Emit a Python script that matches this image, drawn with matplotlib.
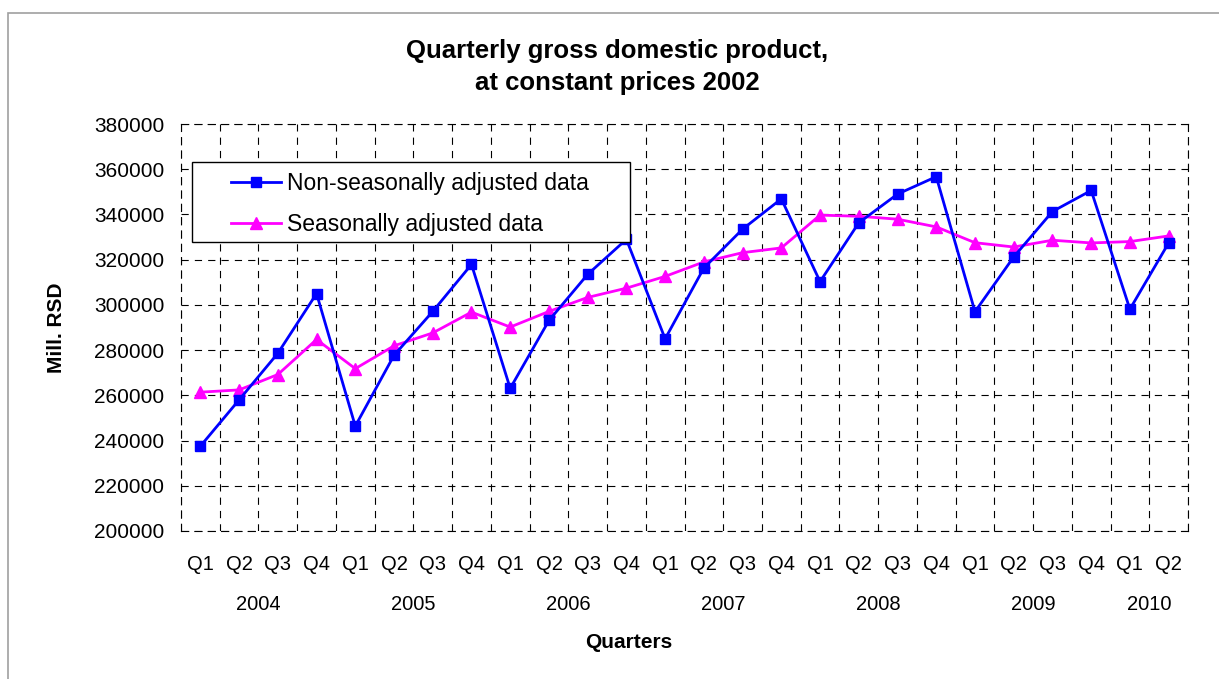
import matplotlib
matplotlib.use("Agg")
import matplotlib.pyplot as plt
from matplotlib.patches import Rectangle
import matplotlib.transforms as mtransforms

plt.rcParams['font.family'] = ['Liberation Sans', 'DejaVu Sans']

quarters = ["Q1", "Q2", "Q3", "Q4"] * 6 + ["Q1", "Q2"]
years = ["2004", "2005", "2006", "2007", "2008", "2009", "2010"]
year_quarter_counts = [4, 4, 4, 4, 4, 4, 2]

non_seasonal = [237500, 258000, 278600, 305000, 246400, 277700, 297100, 317900,
                263100, 293100, 313500, 329000, 285000, 316300, 333500, 346900,
                310300, 336300, 349000, 356700, 297000, 321200, 341300, 350600,
                298100, 327400]
seasonal = [261400, 262400, 269200, 284700, 271800, 281900, 287600, 296800,
            290200, 297100, 303300, 307400, 312600, 319000, 323100, 325200,
            339700, 339200, 337900, 334500, 327500, 325600, 328600, 327400,
            328000, 330500]

title = "Quarterly gross domestic product,\nat constant prices 2002"
ylabel = "Mill. RSD"
xlabel = "Quarters"
labels = ["Non-seasonally adjusted data", "Seasonally adjusted data"]

W, H = 1219, 679
AX_L, AX_R, AX_T, AX_B = 181, 1188, 124, 531
AW, AH = AX_R - AX_L, AX_B - AX_T

fig = plt.figure(figsize=(W / 100, H / 100), dpi=100)
fig.patch.set_facecolor("white")

# outer gray frame
fig.patches.append(Rectangle((8 / W, -0.05), 1.2, 1 - 13 / H + 0.05,
                             transform=fig.transFigure, fill=False,
                             edgecolor="#a0a0a0", linewidth=1.2))

ax = fig.add_axes([AX_L / W, 1 - AX_B / H, AW / W, AH / H])

x = list(range(len(quarters)))
ax.plot(x, non_seasonal, color="#0000ff", linewidth=2.0, marker="s",
        markersize=7.5, label=labels[0], zorder=4)
ax.plot(x, seasonal, color="#ff00ff", linewidth=2.0, marker="^",
        markersize=8, label=labels[1], zorder=3)

ax.set_xlim(-0.5, len(quarters) - 0.5)
ax.set_ylim(200000, 380000)
ax.set_yticks(range(200000, 380001, 20000))
ax.set_xticks(x)
ax.set_xticklabels(quarters, fontsize=14.5)
ax.set_xticks([i - 0.5 for i in range(len(quarters) + 1)], minor=True)
ax.tick_params(axis="x", which="both", length=0, pad=17)
ax.tick_params(axis="y", length=0, pad=12, labelsize=15)

dash = (0, (6.5, 5.5))
ax.grid(True, axis="y", which="major", color="black", linewidth=0.8, linestyle=dash)
ax.grid(True, axis="x", which="minor", color="black", linewidth=0.8, linestyle=dash)
ax.grid(False, axis="x", which="major")
for s in ax.spines.values():
    s.set_linestyle(dash)
    s.set_linewidth(0.8)

# year labels
trans = mtransforms.blended_transform_factory(ax.transData, ax.transAxes)
start = 0
for yr, n in zip(years, year_quarter_counts):
    center = start + (n - 1) / 2
    ax.text(center, -(605 - AX_B) / AH, yr, transform=trans, ha="center",
            va="center", fontsize=14.5)
    start += n

fig.text(629 / W, 1 - 643 / H, xlabel, ha="center", va="center",
         fontsize=15, fontweight="bold")
fig.text(56 / W, 1 - 328 / H, ylabel, ha="center", va="center",
         fontsize=15, fontweight="bold", rotation=90)
fig.text(617 / W, 1 - 67 / H, title, ha="center", va="center",
         fontsize=18.5, fontweight="bold", linespacing=1.4)

# legend frame drawn explicitly in pixel positions
px = lambda xp: (xp - AX_L) / AW
py = lambda yp: (AX_B - yp) / AH
ax.add_patch(Rectangle((px(192), py(242)), px(630) - px(192), py(162) - py(242),
                       transform=ax.transAxes, facecolor="white",
                       edgecolor="black", linewidth=1.0, zorder=5,
                       clip_on=False))
leg = ax.legend(loc="upper left", bbox_to_anchor=(px(231), py(172)),
                borderaxespad=0, borderpad=0, fontsize=16.5, frameon=False,
                handlelength=2.2, labelspacing=0.78, handletextpad=0.25)
leg.set_zorder(10)

fig.savefig("out.png", dpi=100, facecolor="white")
